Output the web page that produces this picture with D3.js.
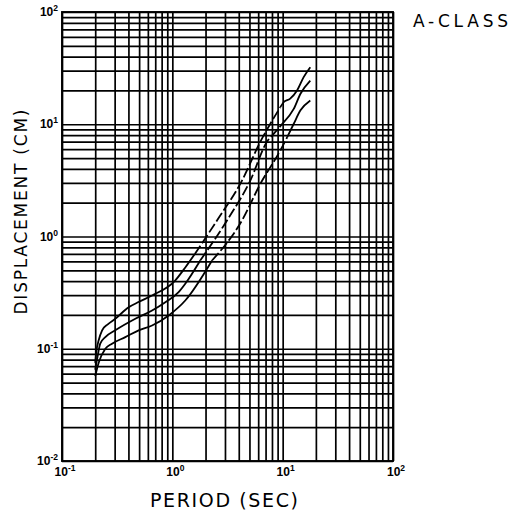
<!DOCTYPE html>
<html>
<head>
<meta charset="utf-8">
<script src="https://cdn.jsdelivr.net/npm/d3@7"></script>
<style>
  body { margin: 0; background: #fff; }
  svg { display: block; }
</style>
</head>
<body>
<svg id="chart"></svg>
<script>
// period (sec) / displacement (cm)
var topPeriod = [0.2, 0.205, 0.215, 0.231, 0.26, 0.304, 0.402, 0.5, 0.655, 1.06, 1.31, 1.6, 2.54, 4.28, 6.28, 7.73, 9.52, 10.2, 11.7, 13.5, 15.5, 17.8];
var topDisp   = [0.075, 0.095, 0.119, 0.146, 0.165, 0.185, 0.234, 0.262, 0.298, 0.405, 0.53, 0.7, 1.39, 3.15, 7.0, 10.1, 14.2, 15.7, 16.9, 20, 26.3, 32.2];

var midPeriod = [0.2, 0.21, 0.222, 0.247, 0.304, 0.462, 0.655, 0.864, 1.14, 1.31, 1.79, 3.13, 5.09, 7.21, 8.28, 10.2, 12.6, 14.5, 17.8];
var midDisp   = [0.065, 0.085, 0.111, 0.127, 0.146, 0.185, 0.219, 0.26, 0.319, 0.379, 0.611, 1.39, 3.15, 7.0, 8.2, 10.4, 13.7, 18.7, 24.5];

var lowPeriod = [0.2, 0.215, 0.247, 0.284, 0.375, 0.495, 0.655, 0.926, 1.31, 2.29, 4.28, 6.28, 9.52, 11.0, 12.6, 14.5, 17.8];
var lowDisp   = [0.057, 0.075, 0.1, 0.111, 0.127, 0.146, 0.161, 0.198, 0.269, 0.611, 1.39, 2.95, 5.84, 7.67, 10.1, 13.3, 16.3];

// where each curve is drawn dashed (period range)
var dashRanges = [[1.6, 9.52], [1.79, 10.2], [2.29, 11.0]];

var xExponents = [-1, 0, 1, 2];
var yExponents = [-2, -1, 0, 1, 2];

var W = 512, H = 517,
    x0 = 62, x1 = 393,
    y0 = 12, y1 = 461;

var svg = d3.select("#chart").attr("width", W).attr("height", H);

var x = d3.scaleLog().domain([0.1, 100]).range([x0, x1]);
var y = d3.scaleLog().domain([0.01, 100]).range([y1, y0]);

// every 1..9 step of each decade
function logGrid(lo, hi) {
  var v = [];
  for (var e = lo; e < hi; e++)
    for (var m = 1; m <= 9; m++) v.push(m * Math.pow(10, e));
  v.push(Math.pow(10, hi));
  return v;
}

function styleGrid(g) {
  g.select(".domain").remove();
  g.selectAll("line").attr("stroke", "#000").attr("stroke-width", 1.7);
}

svg.append("g")
    .attr("transform", "translate(0," + y1 + ")")
    .call(d3.axisBottom(x).tickValues(logGrid(-1, 2)).tickSize(-(y1 - y0)).tickFormat(""))
    .call(styleGrid);

svg.append("g")
    .attr("transform", "translate(" + x0 + ",0)")
    .call(d3.axisLeft(y).tickValues(logGrid(-2, 2)).tickSize(-(x1 - x0)).tickFormat(""))
    .call(styleGrid);

svg.append("rect")
    .attr("x", x0).attr("y", y0)
    .attr("width", x1 - x0).attr("height", y1 - y0)
    .attr("fill", "none").attr("stroke", "#000").attr("stroke-width", 1.9);

// tick labels 10^n
function powLabel(sel, e) {
  sel.append("tspan").text("10");
  sel.append("tspan").attr("dy", -5).attr("font-size", 8.5).text(e);
}

svg.append("g").selectAll("text")
  .data(xExponents)
  .enter().append("text")
    .attr("x", function(d) { return x(Math.pow(10, d)) + 3; })
    .attr("y", y1 + 15)
    .attr("text-anchor", "middle")
    .attr("font-family", "Liberation Sans, Arial, sans-serif")
    .attr("font-weight", "bold")
    .attr("font-size", 12)
    .each(function(d) { powLabel(d3.select(this), d); });

svg.append("g").selectAll("text")
  .data(yExponents)
  .enter().append("text")
    .attr("x", x0 - 4)
    .attr("y", function(d) { return y(Math.pow(10, d)) + 4; })
    .attr("text-anchor", "end")
    .attr("font-family", "Liberation Sans, Arial, sans-serif")
    .attr("font-weight", "bold")
    .attr("font-size", 12)
    .each(function(d) { powLabel(d3.select(this), d); });

// curves
var series = [
  d3.zip(topPeriod, topDisp),
  d3.zip(midPeriod, midDisp),
  d3.zip(lowPeriod, lowDisp)
];

var line = d3.line()
    .x(function(d) { return x(d[0]); })
    .y(function(d) { return y(d[1]); })
    .curve(d3.curveMonotoneX);

var curves = svg.append("g").attr("fill", "none").attr("stroke", "#000").attr("stroke-width", 1.8);

series.forEach(function(s, i) {
  var a = dashRanges[i][0], b = dashRanges[i][1];
  var parts = [
    { pts: s.filter(function(d) { return d[0] <= a; }), dash: null },
    { pts: s.filter(function(d) { return d[0] >= a && d[0] <= b; }), dash: "10,3" },
    { pts: s.filter(function(d) { return d[0] >= b; }), dash: null }
  ];
  parts.forEach(function(p) {
    curves.append("path")
        .attr("d", line(p.pts))
        .attr("stroke-dasharray", p.dash);
  });
});

// titles
svg.append("text")
    .attr("transform", "translate(27,212) rotate(-90)")
    .attr("text-anchor", "middle")
    .attr("font-family", "DejaVu Sans, sans-serif")
    .attr("font-size", 17)
    .attr("textLength", 205)
    .attr("lengthAdjust", "spacing")
    .text("DISPLACEMENT (CM)");

svg.append("text")
    .attr("x", 150)
    .attr("y", 507)
    .attr("font-family", "DejaVu Sans, sans-serif")
    .attr("font-size", 19)
    .attr("textLength", 148)
    .attr("lengthAdjust", "spacing")
    .text("PERIOD (SEC)");

svg.append("text")
    .attr("x", 413)
    .attr("y", 27)
    .attr("font-family", "DejaVu Sans, sans-serif")
    .attr("font-size", 17)
    .attr("textLength", 95)
    .attr("lengthAdjust", "spacing")
    .text("A-CLASS");
</script>
</body>
</html>
